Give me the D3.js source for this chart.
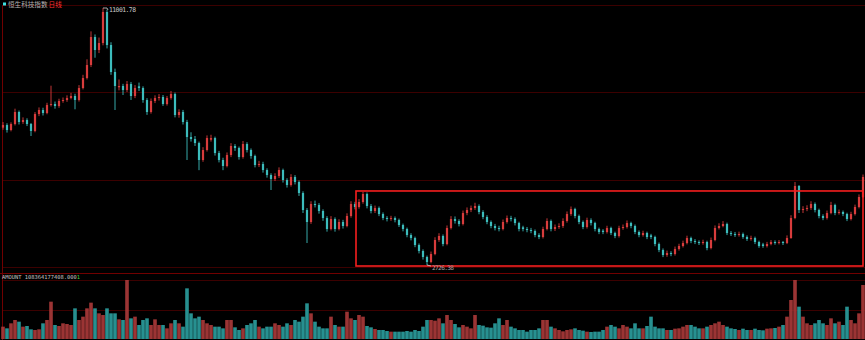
<!DOCTYPE html>
<html><head><meta charset="utf-8">
<script src="https://cdn.jsdelivr.net/npm/d3@7"></script>
<style>html,body{margin:0;padding:0;background:#000;overflow:hidden}svg{display:block}</style>
</head><body><svg id="c" width="865" height="340"></svg>
<script>
// 恒生科技指数 日线 (aggregated candles)
const open = [7150,7234,7073,7266,7653,7331,7395,7266,7041,7588,
7717,7620,7878,7910,7846,8007,8039,8103,8168,8039,
8425,8747,9166,10068,9649,9874,10873,9810,8941,8450,
8490,8361,8554,8168,8480,8425,8039,7653,8007,8103,
8136,7910,8103,8232,7556,7653,7331,6848,6783,6654,
6107,6429,6760,6815,6332,6107,5914,6268,6558,6493,
6204,6622,6429,6236,5946,5978,5785,5624,5495,5592,
5785,5463,5302,5560,5399,5044,4497,4111,4690,4658,
4465,4239,3885,4207,3885,4111,3982,4304,4690,4594,
4755,5012,4626,4465,4561,4368,4239,4207,4239,4175,
4014,3885,3692,3595,3370,3177,2984,2823,3080,3531,
3660,3402,3917,4207,4143,4046,4400,4497,4561,4626,
4433,4272,4111,3982,3917,3885,4111,4239,4207,4078,
3940,3885,3853,3821,3692,3628,3885,4143,3885,3950,
3982,4143,4368,4529,4304,4111,3950,4175,4078,3885,
3830,3789,3917,3756,3660,3917,3950,4078,3982,3789,
3692,3756,3680,3628,3402,3209,3048,3112,3080,3241,
3338,3434,3595,3499,3467,3434,3467,3273,3531,3917,
3982,4046,3756,3724,3692,3724,3628,3563,3595,3467,
3390,3338,3402,3467,3434,3467,3434,3595,4239,5270,
4497,4529,4561,4690,4497,4304,4239,4400,4658,4400,
4433,4368,4207,4368,4594,4916];
const high = [7330,7290,7320,7760,7700,7480,7450,7300,7650,7800,
7790,7950,8500,7990,8080,8120,8190,8270,8240,8520,
8850,9350,10250,10150,10050,11001.78,10950,9900,9050,8700,
8560,8650,8620,8520,8600,8480,8100,8090,8190,8230,
8200,8170,8330,8280,7740,7720,7400,7000,6880,6700,
6520,6900,6920,6860,6400,6180,6350,6650,6620,6540,
6720,6680,6480,6280,6080,6050,5840,5680,5680,5870,
5830,5520,5650,5620,5450,5100,4560,4780,4800,4720,
4520,4300,4300,4260,4200,4180,4390,4780,4760,4850,
5080,5060,4690,4640,4610,4420,4300,4310,4290,4220,
4060,3930,3750,3640,3420,3230,3030,3160,3620,3750,
3710,4000,4300,4290,4200,4480,4580,4640,4730,4680,
4490,4330,4160,4050,3990,4190,4320,4310,4260,4120,
3990,3950,3920,3870,3750,3960,4230,4190,4030,4070,
4230,4450,4610,4570,4350,4160,4250,4230,4120,3930,
3880,3990,3960,3800,3990,4030,4160,4120,4030,3840,
3830,3800,3730,3670,3450,3260,3190,3170,3320,3410,
3510,3670,3640,3560,3520,3540,3510,3610,4000,4070,
4140,4090,3820,3790,3800,3770,3680,3670,3640,3510,
3440,3470,3530,3520,3530,3500,3680,4330,5400,5300,
4620,4650,4780,4740,4540,4360,4480,4760,4700,4510,
4480,4410,4440,4670,5000,5640];
const low = [7080,6990,7030,7220,7250,7270,7200,6880,7000,7520,
7540,7580,7830,7760,7790,7950,7980,8060,7740,7990,
8380,8700,9100,9400,9550,9800,9700,8850,7717,8350,
8200,8300,8040,8100,8330,7950,7560,7600,7940,8020,
7850,7860,8050,7480,7470,7250,6107,6700,6560,5780,
6050,6380,6700,6250,6030,5780,5870,6200,6400,6120,
6150,6350,6150,5870,5880,5700,5540,5141,5430,5530,
5380,5220,5250,5320,4950,4400,3434,4050,4580,4380,
4150,3800,3840,3800,3840,3900,3940,4250,4520,4540,
4700,4550,4390,4400,4300,4170,4130,4150,4100,3950,
3810,3620,3520,3300,3100,2900,2726.38,2780,3040,3470,
3330,3360,3870,4060,3970,4000,4330,4430,4500,4360,
4200,4040,3910,3840,3810,3840,4060,4130,4000,3810,
3810,3780,3750,3620,3560,3580,3840,3810,3820,3890,
3920,4090,4310,4230,4040,3880,3900,4000,3810,3720,
3720,3740,3690,3590,3610,3860,3900,3910,3720,3620,
3640,3560,3560,3330,3140,2980,2990,3010,3030,3190,
3290,3390,3430,3400,3370,3380,3200,3230,3490,3870,
3940,3690,3660,3630,3640,3570,3500,3510,3400,3280,
3280,3290,3360,3380,3390,3370,3400,3570,4200,4400,
4400,4460,4500,4420,4230,4170,4190,4360,4330,4350,
4300,4140,4160,4320,4550,4880];
const close = [7234,7073,7266,7653,7331,7395,7266,7041,7588,7717,
7620,7878,7910,7846,8007,8039,8103,8168,8039,8425,
8747,9166,10068,9649,9874,10873,9810,8941,8490,8490,
8361,8554,8168,8425,8425,8039,7653,8007,8103,8136,
7910,8103,8232,7556,7653,7331,6848,6783,6654,6107,
6429,6815,6815,6332,6107,5914,6268,6558,6493,6204,
6622,6429,6236,5946,5978,5785,5624,5495,5592,5785,
5463,5302,5560,5399,5044,4497,4111,4690,4658,4465,
4239,3885,4207,3885,4111,3982,4304,4690,4594,4755,
5012,4626,4465,4561,4368,4239,4207,4239,4175,4014,
3885,3692,3595,3370,3177,2984,2823,3080,3531,3660,
3402,3917,4207,4143,4046,4400,4497,4561,4626,4433,
4272,4111,3982,3917,3885,4111,4239,4207,4078,3885,
3885,3853,3821,3692,3628,3885,4143,3885,3950,3982,
4143,4368,4529,4304,4111,3950,4175,4078,3885,3789,
3789,3917,3756,3660,3917,3950,4078,3982,3789,3692,
3756,3628,3628,3402,3209,3048,3112,3080,3241,3338,
3434,3595,3499,3467,3434,3467,3273,3531,3917,3982,
4046,3756,3724,3692,3724,3628,3563,3595,3467,3338,
3338,3402,3467,3434,3467,3434,3595,4239,5270,4497,
4529,4561,4690,4497,4304,4239,4400,4658,4400,4433,
4368,4207,4368,4594,4916,5560];
// 成交额 (亿)
const amount = [627,542,797,966,881,627,661,492,458,492,
797,966,1898,712,661,797,763,712,1559,966,
1136,1559,1848,1559,1305,1220,1559,1305,1305,1000,
966,3000,1051,1136,712,966,1051,712,1000,712,
712,542,797,966,797,627,2576,1305,1051,1136,
966,797,712,627,627,542,966,966,593,458,
542,712,797,966,627,542,627,627,797,712,
627,797,712,966,881,1136,1814,1305,881,627,
542,542,1136,712,627,627,1390,1051,966,1220,
1136,661,593,508,458,458,407,373,373,373,
373,407,373,458,407,627,966,966,932,1051,
797,1220,966,763,593,712,627,542,1220,712,
678,593,576,797,1051,712,966,627,542,458,
458,373,458,458,542,966,966,627,542,458,
390,458,492,542,458,424,373,356,373,373,
458,627,712,627,542,712,627,542,797,542,
542,661,1136,627,542,542,458,458,525,542,
627,712,712,627,542,542,627,712,797,881,
712,627,542,508,458,525,458,458,525,458,
441,525,542,559,627,712,1136,1983,3000,1644,
1136,797,712,797,966,797,712,1051,797,881,
712,1644,966,797,1305,2746];
const titleName = "恒生科技指数";
const titlePeriod = "日线";
const amountHead = "AMOUNT 108364177408.000";
const amountTail = "1";
// annotation box (user drawn) in data terms
const boxStartIndex = 88;
const boxPriceTop = 5110;
const boxPriceBottom = 2694;

const W = 865, H = 340;
const svg = d3.select("#c");
svg.append("rect").attr("width", W).attr("height", H).attr("fill", "#000");

const N = close.length;
const idx = d3.range(N);
const x = d3.scaleBand().domain(idx).range([1, W]).paddingInner(0.45).paddingOuter(0.225);
const xv = d3.scaleBand().domain(idx).range([1, W]).paddingInner(0.1).paddingOuter(0.05);
const y = d3.scaleLinear().domain([d3.min(low), d3.max(high)]).range([265, 8]);
const yv = d3.scaleLinear().domain([0, d3.max(amount)]).range([339, 280]);

const priceTop = 5, priceBottom = 267;
const gridDim = "#3c0000";
// frame & grid
const g = svg.append("g").attr("shape-rendering", "crispEdges");
const pGrid = d3.range(0, 4).map(k => priceTop + (priceBottom - priceTop) * k / 3);
g.selectAll("line.pg").data(pGrid).join("line")
  .attr("x1", 2).attr("x2", W).attr("y1", d => Math.round(d) + 0.5).attr("y2", d => Math.round(d) + 0.5)
  .attr("stroke", gridDim).attr("stroke-width", 1);
g.append("line").attr("x1", 0).attr("x2", W).attr("y1", 273.5).attr("y2", 273.5).attr("stroke", "#700000");
const vGrid = [d3.max(amount), d3.max(amount) / 2];
g.selectAll("line.vg").data(vGrid).join("line")
  .attr("x1", 2).attr("x2", W).attr("y1", d => Math.round(yv(d)) + 0.5).attr("y2", d => Math.round(yv(d)) + 0.5)
  .attr("stroke", gridDim);
g.append("line").attr("x1", 2.5).attr("x2", 2.5).attr("y1", priceTop).attr("y2", H).attr("stroke", "#700000");

const upC = "#d83c3c", dnC = "#3cbcbc";
const isUp = i => close[i] >= open[i];

// volume bars
svg.append("g").selectAll("rect").data(idx).join("rect")
  .attr("x", i => xv(i)).attr("width", xv.bandwidth())
  .attr("y", i => yv(amount[i])).attr("height", i => yv(0) - yv(amount[i]))
  .attr("fill", i => isUp(i) ? "#a83838" : "#2a9c9c").attr("opacity", 0.92);

// candles
const cg = svg.append("g");
cg.selectAll("line").data(idx).join("line")
  .attr("x1", i => x(i) + x.bandwidth() / 2).attr("x2", i => x(i) + x.bandwidth() / 2)
  .attr("y1", i => y(high[i])).attr("y2", i => y(low[i]))
  .attr("stroke", i => isUp(i) ? upC : dnC).attr("stroke-width", 0.9);
cg.selectAll("rect").data(idx).join("rect")
  .attr("x", i => x(i)).attr("width", x.bandwidth())
  .attr("y", i => y(Math.max(open[i], close[i])))
  .attr("height", i => Math.max(1, Math.abs(y(open[i]) - y(close[i]))))
  .attr("fill", i => isUp(i) ? upC : dnC);

// annotation box
const cx = i => x(i) + x.bandwidth() / 2;
const bx = cx(boxStartIndex) + 1;
svg.append("rect")
  .attr("x", bx).attr("y", y(boxPriceTop))
  .attr("width", W - 2 - bx).attr("height", y(boxPriceBottom) - y(boxPriceTop))
  .attr("fill", "none").attr("stroke", "#f51e1e").attr("stroke-width", 1.6);

// extreme labels
const iMax = d3.maxIndex(high), iMin = d3.minIndex(low);
const fmt = d3.format(".2f");
svg.append("path").attr("d", `M${cx(iMax)},${y(high[iMax])}L${cx(iMax)+4},${y(high[iMax])}L${cx(iMax)+5},${y(high[iMax])+2}`)
  .attr("stroke", "#cfcfcf").attr("fill", "none").attr("stroke-width", 0.8);
svg.append("text").attr("x", cx(iMax) + 6).attr("y", y(high[iMax]) + 4)
  .attr("font-family", "DejaVu Sans Mono, monospace").attr("font-size", 6.4).attr("fill", "#c8c8c8")
  .attr("textLength", 27).text(fmt(high[iMax]));
svg.append("path").attr("d", `M${cx(iMin)},${y(low[iMin])}L${cx(iMin)+4},${y(low[iMin])+1}`)
  .attr("stroke", "#cfcfcf").attr("fill", "none").attr("stroke-width", 0.8);
svg.append("text").attr("x", cx(iMin) + 5).attr("y", y(low[iMin]) + 5)
  .attr("font-family", "DejaVu Sans Mono, monospace").attr("font-size", 6.2).attr("fill", "#a8a8a8")
  .attr("textLength", 22).text(fmt(low[iMin]));

// title
svg.append("rect").attr("x", 3).attr("y", 2.5).attr("width", 3).attr("height", 3).attr("fill", "#3ee0e0");
const t = svg.append("text").attr("x", 8).attr("y", 7)
  .attr("font-family", "Noto Sans CJK SC, sans-serif").attr("font-size", 6.6);
t.append("tspan").attr("fill", "#b4b4b4").text(titleName);
t.append("tspan").attr("fill", "#ff3030").attr("dx", 1).text(titlePeriod);

// amount label
const a = svg.append("text").attr("x", 2).attr("y", 278.5)
  .attr("font-family", "DejaVu Sans Mono, monospace").attr("font-size", 5.4);
a.append("tspan").attr("fill", "#c0c0c0").text(amountHead);
a.append("tspan").attr("fill", "#40d040").text(amountTail);
</script></body></html>
